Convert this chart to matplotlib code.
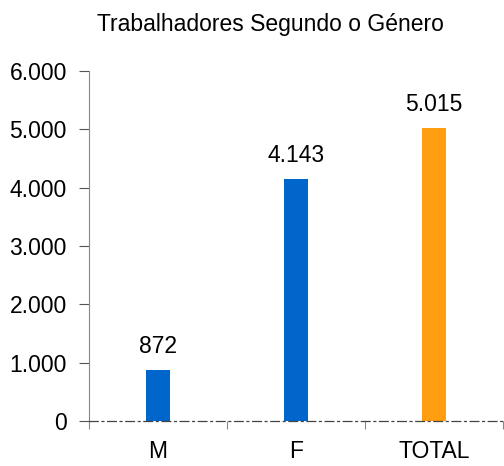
import numpy as np
import matplotlib.pyplot as plt
from matplotlib.ticker import FuncFormatter

plt.rcParams['font.family'] = ['Liberation Sans', 'DejaVu Sans']

categories = ['M', 'F', 'TOTAL']
values = [872, 4143, 5015]
colors = ['#0066CC', '#0066CC', '#FF9E10']

fig = plt.figure(figsize=(5.04, 4.66), dpi=100)
ax = fig.add_axes([89 / 504, 1 - 421 / 466, 1 - 89 / 504 - 0.002, (421 - 71) / 466])

x = np.arange(len(categories))
ax.bar(x, values, width=0.17, color=colors, zorder=2)
for xi, v in zip(x, values):
    ax.annotate(f'{v:,}'.replace(',', '.'), (xi, v), xytext=(0, 9),
                textcoords='offset points', ha='center', va='bottom', fontsize=16.5)

ax.set_xlim(-0.5, 2.5)
ax.set_ylim(0, 6000)
ax.set_yticks(range(0, 6001, 1000))
ax.yaxis.set_major_formatter(FuncFormatter(lambda v, p: f'{int(v):,}'.replace(',', '.')))
ax.set_xticks([-0.5, 0.5, 1.5, 2.5])
ax.set_xticklabels([])
ax.set_xticks(x, minor=True)
ax.set_xticklabels(categories, minor=True)
ax.tick_params(axis='x', which='minor', length=0, pad=14, labelsize=16.5)
ax.tick_params(axis='x', which='major', length=6, color='#888888', direction='out')
ax.tick_params(axis='y', length=7, color='#555555', labelsize=16.5, pad=9)

for s in ['top', 'right']:
    ax.spines[s].set_visible(False)
ax.spines['left'].set_color('#888888')
ax.spines['bottom'].set_color('#444444')
ax.spines['bottom'].set_linestyle((0, (7, 3, 1.5, 3)))
ax.spines['bottom'].set_linewidth(0.9)

fig.text(270 / 504, 1 - 25 / 466, 'Trabalhadores Segundo o Género', ha='center', va='center', fontsize=16.5)

fig.savefig('out.png', dpi=100)
